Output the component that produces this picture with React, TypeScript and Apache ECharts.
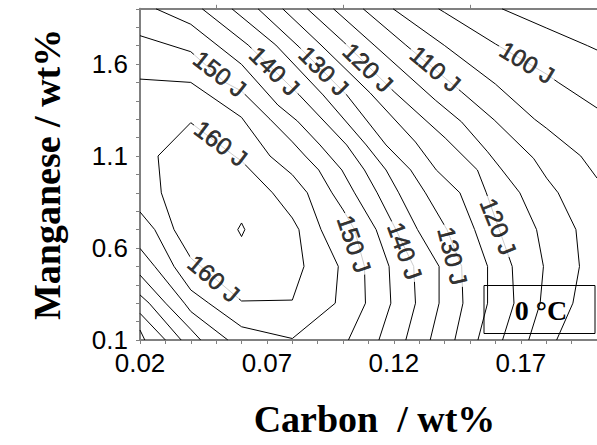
import React, { useEffect, useRef } from "react";
import * as echarts from "echarts";

// ---- axis ticks / labels ----
const xTickValues = [0.02, 0.03, 0.04, 0.05, 0.06, 0.07, 0.08, 0.09, 0.1, 0.11, 0.12, 0.13, 0.14, 0.15, 0.16, 0.17, 0.18, 0.19, 0.2];
const xLabelValues = [0.02, 0.07, 0.12, 0.17];
const topTickValues = [0.05, 0.1, 0.15];
const yTickValues = [0.1, 0.2, 0.3, 0.4, 0.5, 0.6, 0.7, 0.8, 0.9, 1.0, 1.1, 1.2, 1.3, 1.4, 1.5, 1.6, 1.7, 1.8, 1.9];
const yLabelValues = [0.1, 0.6, 1.1, 1.6];

// ---- contour lines [carbon wt%, manganese wt%] ----
const c95 = [[0.1626, 1.9], [0.18, 1.796], [0.1962, 1.7], [0.2, 1.676]];
const c100 = [[0.1376, 1.9], [0.14, 1.88], [0.16, 1.709], [0.18, 1.546], [0.1847, 1.5], [0.2, 1.361]];
const c105 = [[0.1197, 1.9], [0.14, 1.7], [0.16, 1.491], [0.1754, 1.3], [0.18, 1.252], [0.1936, 1.1], [0.2, 0.98]];
const c110 = [[0.1079, 1.9], [0.1247, 1.703], [0.1466, 1.449], [0.1595, 1.296], [0.175, 1.0875], [0.1802, 0.979], [0.1847, 0.9], [0.1917, 0.7], [0.1931, 0.5], [0.1905, 0.3], [0.1841, 0.1]];
const c115 = [[0.0962, 1.9], [0.1122, 1.703], [0.1363, 1.404], [0.1466, 1.286], [0.1569, 1.123], [0.1626, 1.024], [0.1696, 0.9], [0.1762, 0.7], [0.1789, 0.5], [0.1776, 0.3], [0.1731, 0.1]];
const c120 = [[0.0859, 1.9], [0.1001, 1.721], [0.1201, 1.449], [0.1402, 1.198], [0.1529, 1.024], [0.1564, 0.9], [0.1615, 0.7], [0.1666, 0.5], [0.1673, 0.3], [0.1628, 0.1]];
const c125 = [[0.0762, 1.9], [0.0913, 1.703], [0.1107, 1.442], [0.1285, 1.176], [0.1367, 1.024], [0.146, 0.9], [0.1518, 0.7], [0.1569, 0.5], [0.1569, 0.3], [0.1531, 0.1]];
const c130 = [[0.0665, 1.9], [0.0827, 1.692], [0.1014, 1.432], [0.1169, 1.16], [0.1266, 1.024], [0.1324, 0.9], [0.1409, 0.7], [0.1467, 0.5], [0.1472, 0.3], [0.144, 0.1]];
const c135 = [[0.0562, 1.9], [0.0735, 1.703], [0.0921, 1.432], [0.1091, 1.16], [0.1169, 1.024], [0.1219, 0.9], [0.1293, 0.7], [0.1378, 0.5], [0.1378, 0.3], [0.1343, 0.1]];
const c140 = [[0.0445, 1.9], [0.0626, 1.703], [0.0827, 1.432], [0.1014, 1.16], [0.1084, 1.024], [0.1134, 0.9], [0.1208, 0.7], [0.1278, 0.5], [0.1285, 0.3], [0.1247, 0.1]];
const c145 = [[0.0263, 1.9], [0.04, 1.816], [0.06, 1.598], [0.0743, 1.377], [0.082, 1.29], [0.0909, 1.16], [0.0995, 1.024], [0.1045, 0.9], [0.113, 0.7], [0.1181, 0.5], [0.1188, 0.3], [0.1141, 0.1]];
const c150 = [[0.02, 1.754], [0.04, 1.667], [0.0535, 1.5], [0.06, 1.453], [0.0712, 1.3], [0.08, 1.177], [0.0851, 1.1], [0.0904, 1.024], [0.0956, 0.9], [0.1, 0.807], [0.1045, 0.7], [0.1084, 0.5], [0.1088, 0.3], [0.1021, 0.1]];
const c155 = [[0.02, 1.518], [0.04, 1.5], [0.06, 1.31], [0.0712, 1.1], [0.08, 0.998], [0.0859, 0.9], [0.0913, 0.7], [0.0981, 0.5], [0.0969, 0.3], [0.08, 0.108], [0.06, 0.172], [0.0471, 0.3], [0.04, 0.372], [0.0334, 0.5], [0.0258, 0.7], [0.02, 0.796]];
const c160 = [[0.04, 1.281], [0.0271, 1.1], [0.0284, 0.9], [0.0334, 0.7], [0.04, 0.546], [0.0439, 0.5], [0.06, 0.312], [0.08, 0.317], [0.0846, 0.5], [0.0826, 0.7], [0.08, 0.763], [0.0722, 0.9], [0.06, 1.073], [0.0572, 1.1], [0.04, 1.281]];
const c165 = [[0.06, 0.736], [0.0613, 0.7], [0.06, 0.662], [0.0585, 0.7], [0.06, 0.736]];
const c150low = [[0.02, 0.598], [0.0258, 0.5], [0.0375, 0.3], [0.04, 0.255], [0.0546, 0.1]];
const c145low = [[0.02, 0.453], [0.0301, 0.3], [0.04, 0.158], [0.0439, 0.1]];
const c140low = [[0.02, 0.345], [0.0236, 0.3], [0.0362, 0.1]];
const c135low = [[0.02, 0.245], [0.03, 0.1]];
const c130low = [[0.02, 0.154], [0.0219, 0.1]];

const contourLines = [c95, c100, c105, c110, c115, c120, c125, c130, c135, c140, c145, c150, c155, c160, c165, c150low, c145low, c140low, c135low, c130low];

// ---- contour labels ----
const labelTexts = ["150 J", "140 J", "130 J", "120 J", "110 J", "100 J", "160 J", "160 J", "150 J", "140 J", "130 J", "120 J"];
const labelCarbon = [0.0514, 0.073, 0.0924, 0.1098, 0.1363, 0.1724, 0.0518, 0.049, 0.1043, 0.1243, 0.1431, 0.1611];
const labelMn = [1.546, 1.562, 1.562, 1.581, 1.573, 1.608, 1.168, 0.434, 0.622, 0.584, 0.557, 0.717];
// label rotation (style)
const labelAngles = [-38, -44, -45, -44, -40, -31, -37, -40, -71, -70, -76, -68];

const AXIS_GRAY = "#808080";
const SANS = "'Liberation Sans', Arial, Helvetica, sans-serif";
const SERIF = "'Liberation Serif', 'Times New Roman', serif";

export default function App() {
  const ref = useRef<HTMLDivElement>(null);

  useEffect(() => {
    if (!ref.current) return;
    const chart = echarts.init(ref.current, undefined, { renderer: "svg" });

    const lineSeries = contourLines.map((pts) => ({
      type: "line",
      data: pts,
      showSymbol: false,
      symbol: "none",
      silent: true,
      clip: true,
      z: 2,
      lineStyle: { color: "#000", width: 1 },
    }));

    const labelSeries = {
      type: "scatter",
      symbolSize: 0,
      silent: true,
      z: 5,
      data: labelTexts.map((t, i) => ({
        name: t,
        value: [labelCarbon[i], labelMn[i]],
        label: { rotate: labelAngles[i] },
      })),
      label: {
        show: true,
        position: "inside",
        formatter: (p: any) => p.name,
        fontFamily: SANS,
        fontSize: 24,
        color: "#000",
        textBorderColor: "#000",
        textBorderWidth: 0.6,
        backgroundColor: "#fff",
        padding: [0, 3],
      },
    };

    chart.setOption({
      animation: false,
      backgroundColor: "#fff",
      grid: { left: 140, top: 8.8, bottom: 105, right: -7.4, containLabel: false },
      xAxis: [
        {
          type: "value",
          position: "bottom",
          min: 0.02,
          max: 0.2,
          name: "Carbon  / wt%",
          nameLocation: "middle",
          nameGap: 60,
          nameTextStyle: { fontFamily: SERIF, fontWeight: "bold", fontSize: 38, color: "#000", padding: [0, 0, 0, 12] },
          axisLine: { show: true, onZero: false, lineStyle: { color: AXIS_GRAY, width: 2 } },
          axisTick: { show: true, inside: false, length: 4, customValues: xTickValues, lineStyle: { color: AXIS_GRAY, width: 1 } },
          axisLabel: { show: true, customValues: xLabelValues, margin: 10, fontFamily: SANS, fontSize: 26, color: "#000" },
          splitLine: { show: false },
        },
        {
          type: "value",
          position: "top",
          min: 0.02,
          max: 0.2,
          axisLine: { show: true, onZero: false, lineStyle: { color: AXIS_GRAY, width: 2 } },
          axisTick: { show: true, inside: false, length: 4, customValues: topTickValues, lineStyle: { color: AXIS_GRAY, width: 1 } },
          axisLabel: { show: false },
          splitLine: { show: false },
        },
      ],
      yAxis: {
        type: "value",
        min: 0.1,
        max: 1.9,
        name: "Manganese / wt%",
        nameLocation: "middle",
        nameGap: 74,
        nameTextStyle: { fontFamily: SERIF, fontWeight: "bold", fontSize: 38, color: "#000" },
        axisLine: { show: true, onZero: false, lineStyle: { color: AXIS_GRAY, width: 2 } },
        axisTick: { show: true, inside: false, length: 4, customValues: yTickValues, lineStyle: { color: AXIS_GRAY, width: 1 } },
        axisLabel: { show: true, customValues: yLabelValues, margin: 12, fontFamily: SANS, fontSize: 26, color: "#000" },
        splitLine: { show: false },
      },
      graphic: [
        {
          type: "rect",
          shape: { x: 484, y: 285.5, width: 111, height: 48 },
          style: { fill: "none", stroke: "#000", lineWidth: 1 },
          z: 10,
        },
        {
          type: "text",
          x: 541,
          y: 310,
          style: {
            text: "0 °C",
            fontFamily: SERIF,
            fontWeight: "bold",
            fontSize: 28,
            fill: "#000",
            align: "center",
            verticalAlign: "middle",
          },
          z: 10,
        },
      ],
      series: [...lineSeries, labelSeries],
    });

    return () => chart.dispose();
  }, []);

  return (
    <div
      ref={ref}
      style={{ position: "fixed", left: 0, top: 0, width: 597, height: 445, background: "#fff" }}
    />
  );
}
